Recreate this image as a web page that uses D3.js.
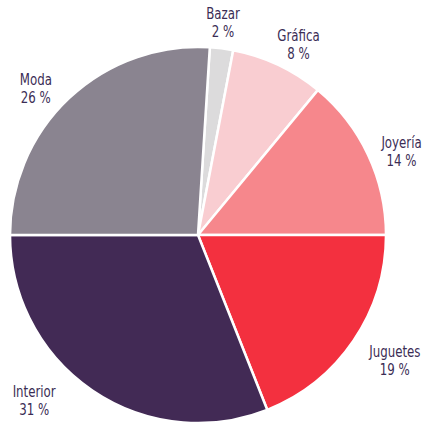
<!DOCTYPE html>
<html>
<head>
<meta charset="utf-8">
<script src="https://cdn.jsdelivr.net/npm/d3@7"></script>
<style>
  html, body { margin: 0; padding: 0; background: #ffffff; }
  svg { display: block; }
  text { font-family: "DejaVu Sans Condensed", "Liberation Sans Narrow", "Roboto", sans-serif; }
</style>
</head>
<body>
<svg id="chart" width="424" height="424"></svg>
<script>
// Sector shares, in percent, listed clockwise
const categories = ["Bazar", "Gráfica", "Joyería", "Juguetes", "Interior", "Moda"];
const shares = [2, 8, 14, 19, 31, 26];
const colors = ["#dcdbdc", "#f9cdd1", "#f6878c", "#f3303f", "#422a55", "#8a8490"];

// Label placement tweaks (px) relative to the radial anchor
const labelShift = [[-2, -3], [9, 1], [9, 5], [19, 1], [-43, -16], [-15, 7]];

const cx = 198, cy = 235, radius = 188;

const svg = d3.select("#chart");
const g = svg.append("g").attr("transform", `translate(${cx},${cy})`);

const data = categories.map((c, i) => ({ name: c, value: shares[i], color: colors[i], i }));

const pie = d3.pie()
  .value(d => d.value)
  .sort(null)
  .startAngle(0.02 * Math.PI)
  .endAngle(0.02 * Math.PI + 2 * Math.PI);

const arc = d3.arc().innerRadius(0).outerRadius(radius);
const labelArc = d3.arc().innerRadius(215).outerRadius(215);

const arcs = pie(data);

g.selectAll("path.slice")
  .data(arcs)
  .join("path")
  .attr("class", "slice")
  .attr("d", arc)
  .attr("fill", d => d.data.color)
  .attr("stroke", "#ffffff")
  .attr("stroke-width", 2.5)
  .attr("stroke-linejoin", "round");

const labels = g.selectAll("text.label")
  .data(arcs)
  .join("text")
  .attr("class", "label")
  .attr("text-anchor", "middle")
  .attr("fill", "#3b2d55")
  .attr("font-size", 16)
  .attr("transform", d => {
    const [x, y] = labelArc.centroid(d);
    const [sx, sy] = labelShift[d.data.i];
    return `translate(${x + sx},${y + sy}) scale(0.82,1)`;
  });

labels.append("tspan")
  .attr("x", 0)
  .attr("y", 0)
  .text(d => d.data.name);

labels.append("tspan")
  .attr("x", 0)
  .attr("y", 18)
  .text(d => `${d.data.value} %`);
</script>
</body>
</html>
